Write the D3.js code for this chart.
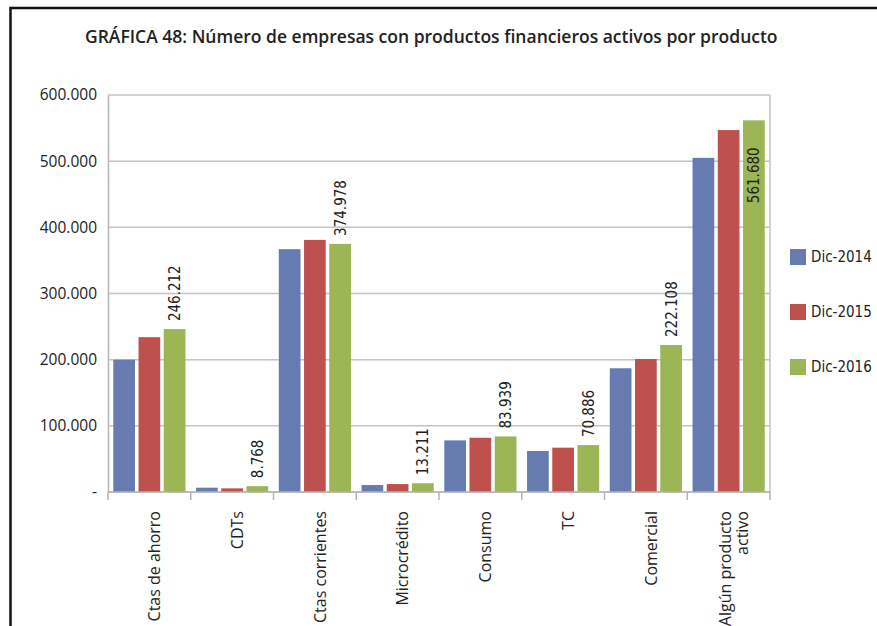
<!DOCTYPE html>
<html>
<head>
<meta charset="utf-8">
<script src="https://cdn.jsdelivr.net/npm/d3@7"></script>
<style>
  html, body { margin: 0; padding: 0; background: #ffffff; }
  svg { display: block; }
</style>
</head>
<body>
<div id="chart"></div>
<script>

// data
const categories = ["Ctas de ahorro", "CDTs", "Ctas corrientes", "Microcrédito", "Consumo", "TC", "Comercial", "Algún producto activo"];
const categoryLines = [["Ctas de ahorro"], ["CDTs"], ["Ctas corrientes"], ["Microcrédito"], ["Consumo"], ["TC"], ["Comercial"], ["Algún producto", "activo"]];
const series = ["Dic-2014", "Dic-2015", "Dic-2016"];
const dic2014 = [200000, 6500, 367000, 10500, 78000, 62000, 187000, 505000];
const dic2015 = [234000, 5500, 381000, 12000, 82000, 67000, 201000, 547000];
const dic2016 = [246212, 8768, 374978, 13211, 83939, 70886, 222108, 561680];
const yTicks = [0, 100000, 200000, 300000, 400000, 500000, 600000];
const colors = ["#667cb0", "#be514e", "#9cb555"];



var W = 877, H = 626;
var plot = { left: 108, right: 770, top: 95, bottom: 492 };
var labelFont = "'DejaVu Sans Condensed', 'DejaVu Sans', sans-serif";
var axisFont = "'Open Sans', 'Noto Sans', sans-serif";

var values = [dic2014, dic2015, dic2016];

var esLocale = d3.formatLocale({ decimal: ",", thousands: ".", grouping: [3], currency: ["$", ""] });
var fmt = esLocale.format(",d");

var svg = d3.select("#chart").append("svg")
  .attr("width", W)
  .attr("height", H);

svg.append("rect")
  .attr("width", W)
  .attr("height", H)
  .attr("fill", "#ffffff");

// outer frame (top + left black lines)
svg.append("path")
  .attr("d", "M10.5,626 L10.5,8 L877,8")
  .attr("fill", "none")
  .attr("stroke", "#111")
  .attr("stroke-width", 2.5);

// title
svg.append("text")
  .attr("x", 85)
  .attr("y", 43)
  .attr("font-family", axisFont)
  .attr("font-weight", 600)
  .attr("font-size", 17.5)
  .attr("fill", "#222")
  .text("GRÁFICA 48: Número de empresas con productos financieros activos por producto");



//--------------------------------------
// SCALES
//--------------------------------------

var x0 = d3.scaleBand()
  .domain(categories)
  .range([plot.left, plot.right])
  .padding(0);

var x1 = d3.scaleBand()
  .domain(series)
  .range([0, x0.bandwidth()])
  .paddingInner(0.14)
  .paddingOuter(0.21);

var y = d3.scaleLinear()
  .domain([0, 600000])
  .range([plot.bottom, plot.top]);



// gridlines
svg.append("g")
  .selectAll("line")
  .data(yTicks)
  .join("line")
  .attr("x1", plot.left)
  .attr("x2", plot.right)
  .attr("y1", d => y(d))
  .attr("y2", d => y(d))
  .attr("stroke", "#c4c4c4")
  .attr("stroke-width", 1.5);

// right edge of plot area
svg.append("line")
  .attr("x1", plot.right)
  .attr("x2", plot.right)
  .attr("y1", y(600000))
  .attr("y2", y(0))
  .attr("stroke", "#c4c4c4")
  .attr("stroke-width", 1.5);

// y axis
var yAxis = d3.axisLeft(y)
  .tickValues(yTicks)
  .tickSize(0)
  .tickPadding(11)
  .tickFormat(d => d === 0 ? "-" : fmt(d));

var gy = svg.append("g")
  .attr("transform", "translate(" + plot.left + ",0)")
  .call(yAxis);

gy.select(".domain").attr("stroke", "#b5b5b5").attr("stroke-width", 1.5);
gy.selectAll("text")
  .attr("font-family", axisFont)
  .attr("font-size", 15.5)
  .attr("fill", "#222");



//--------------------------------------
// BARS
//--------------------------------------

var groups = svg.append("g")
  .selectAll("g")
  .data(categories)
  .join("g")
  .attr("transform", d => "translate(" + x0(d) + ",0)");

groups.selectAll("rect")
  .data((c, i) => series.map((s, j) => ({ s: s, j: j, v: values[j][i] })))
  .join("rect")
  .attr("x", d => x1(d.s))
  .attr("y", d => y(d.v))
  .attr("width", x1.bandwidth())
  .attr("height", d => y(0) - y(d.v))
  .attr("fill", d => colors[d.j]);

// data labels (Dic-2016 only)
groups.append("text")
  .each(function (c, i) {
    var v = dic2016[i];
    var top = y(v);
    var cx = x1("Dic-2016") + x1.bandwidth() / 2;
    var t = d3.select(this)
      .attr("font-family", labelFont)
      .attr("font-size", 15)
      .attr("fill", "#222")
      .attr("dy", "0.36em")
      .text(fmt(v));
    var len = this.getComputedTextLength();
    if (top - 8 - len > plot.top) {
      t.attr("text-anchor", "start")
        .attr("transform", "translate(" + cx + "," + (top - 8) + ") rotate(-90)");
    } else {
      t.attr("text-anchor", "end")
        .attr("transform", "translate(" + cx + "," + (top + 27) + ") rotate(-90)");
    }
  });



// x axis: baseline + boundary ticks
svg.append("line")
  .attr("x1", plot.left)
  .attr("x2", plot.right)
  .attr("y1", y(0))
  .attr("y2", y(0))
  .attr("stroke", "#b5b5b5")
  .attr("stroke-width", 1.5);

var boundaries = categories.map(c => x0(c)).concat([plot.right]);

svg.append("g")
  .selectAll("line")
  .data(boundaries)
  .join("line")
  .attr("x1", d => d)
  .attr("x2", d => d)
  .attr("y1", y(0))
  .attr("y2", y(0) + 8)
  .attr("stroke", "#b5b5b5")
  .attr("stroke-width", 1.5);

// category labels, rotated
svg.append("g")
  .selectAll("g")
  .data(categories)
  .join("g")
  .each(function (c, i) {
    var lines = categoryLines[i];
    var cx = x0(c) + x0.bandwidth() / 2 + 5;
    var n = lines.length;
    d3.select(this).selectAll("text")
      .data(lines)
      .join("text")
      .attr("text-anchor", "end")
      .attr("dy", "0.36em")
      .attr("transform", (l, k) => "translate(" + (cx + (k - (n - 1) / 2) * 17) + "," + (y(0) + 19) + ") rotate(-90)")
      .attr("font-family", axisFont)
      .attr("font-size", 16)
      .attr("fill", "#222")
      .text(l => l);
  });



//--------------------------------------
// LEGEND
//--------------------------------------

var legendY = d3.scalePoint()
  .domain(series)
  .range([257, 367]);

var legend = svg.append("g")
  .selectAll("g")
  .data(series)
  .join("g")
  .attr("transform", d => "translate(790," + legendY(d) + ")");

legend.append("rect")
  .attr("x", 0)
  .attr("y", -8)
  .attr("width", 16)
  .attr("height", 16)
  .attr("fill", (d, i) => colors[i]);

legend.append("text")
  .attr("x", 21)
  .attr("dy", "0.36em")
  .attr("font-family", labelFont)
  .attr("font-size", 15)
  .attr("fill", "#222")
  .text(d => d);

</script>
</body>
</html>
